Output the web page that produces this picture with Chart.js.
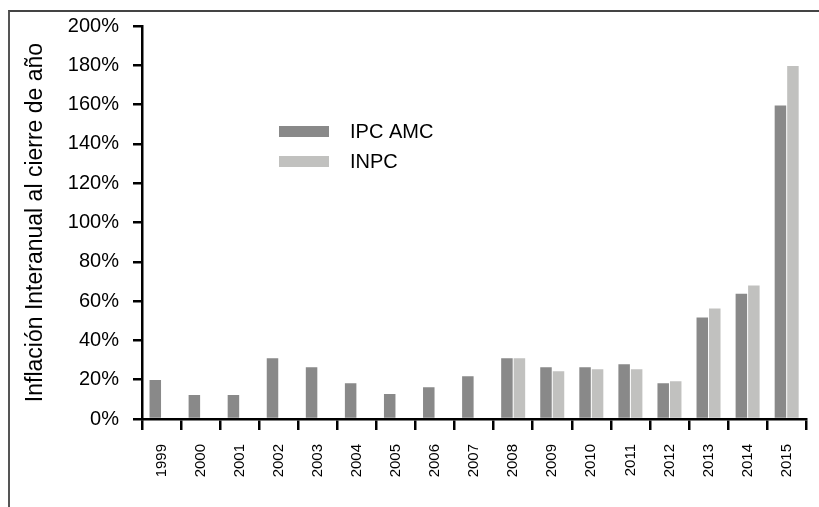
<!DOCTYPE html>
<html>
<head>
<meta charset="utf-8">
<script src="https://cdn.jsdelivr.net/npm/chart.js@4"></script>
<style>
  html, body { margin: 0; padding: 0; background: #fff; }
  #wrap { position: relative; width: 819px; height: 507px; overflow: hidden; }
  #frame { position: absolute; left: 8px; top: 10px; width: 900px; height: 600px;
           border-top: 2px solid #444; border-left: 2px solid #555; }
  #c { position: absolute; left: 0; top: 0; }
</style>
</head>
<body>
<div id="wrap">
  <div id="frame"></div>
  <canvas id="c" width="819" height="507"></canvas>
</div>
<script>
const years   = ['1999','2000','2001','2002','2003','2004','2005','2006','2007','2008','2009','2010','2011','2012','2013','2014','2015'];
const ipcAmc  = [19.8, 12.2, 12.2, 30.9, 26.3, 18.2, 12.7, 16.2, 21.8, 30.9, 26.3, 26.3, 27.8, 18.2, 51.6, 63.8, 159.5];
const inpc    = [null, null, null, null, null, null, null, null, null, 30.9, 24.3, 25.3, 25.3, 19.2, 56.2, 67.9, 179.7];
const yTicks  = [0, 20, 40, 60, 80, 100, 120, 140, 160, 180, 200];

const FONT = "'Liberation Sans', Arial, sans-serif";
const COLORS = ['#898989', '#c1c1bf'];

// legend sits inside the plot, drawn by hand
const boxLegend = {
  id: 'boxLegend',
  afterDraw(chart) {
    const ctx = chart.ctx;
    ctx.save();
    ctx.font = '20px ' + FONT;
    ctx.textBaseline = 'middle';
    chart.data.datasets.forEach((ds, i) => {
      const y = 126 + i * 30;
      ctx.fillStyle = ds.backgroundColor;
      ctx.fillRect(279, y, 50, 11);
      ctx.fillStyle = '#000';
      ctx.fillText(ds.label, 350, y + 6);
    });
    ctx.restore();
  }
};

new Chart(document.getElementById('c'), {
  type: 'bar',
  data: {
    labels: years,
    datasets: [
      { label: 'IPC AMC', data: ipcAmc, backgroundColor: COLORS[0], barPercentage: 0.92, categoryPercentage: 0.64 },
      { label: 'INPC',    data: inpc,   backgroundColor: COLORS[1], barPercentage: 0.92, categoryPercentage: 0.64 }
    ]
  },
  options: {
    responsive: false,
    animation: false,
    devicePixelRatio: 1,
    layout: { padding: { top: 25, right: 11, left: 0, bottom: 0 } },
    plugins: { legend: { display: false }, tooltip: { enabled: false } },
    scales: {
      x: {
        afterFit: s => { s.height = 88; },
        grid: { offset: true, drawOnChartArea: false, drawTicks: true, tickLength: 11, color: '#000', lineWidth: 2.5 },
        border: { display: true, color: '#000', width: 2.5 },
        ticks: { color: '#000', font: { size: 15, family: FONT }, minRotation: 90, maxRotation: 90, padding: 14, autoSkip: false }
      },
      y: {
        min: 0,
        max: 200,
        afterFit: s => { s.width = 142; },
        afterBuildTicks: s => { s.ticks = yTicks.map(v => ({ value: v })); },
        grid: { drawOnChartArea: false, drawTicks: true, tickLength: 9, color: '#000', lineWidth: 2.5 },
        border: { display: true, color: '#000', width: 2.5 },
        ticks: { color: '#000', font: { size: 20, family: FONT }, padding: 14, callback: v => v + '%' },
        title: {
          display: true,
          text: 'Inflación Interanual al cierre de año',
          color: '#000',
          font: { size: 23, family: FONT },
          padding: { top: 22, bottom: 0 }
        }
      }
    }
  },
  plugins: [boxLegend]
});
</script>
</body>
</html>
